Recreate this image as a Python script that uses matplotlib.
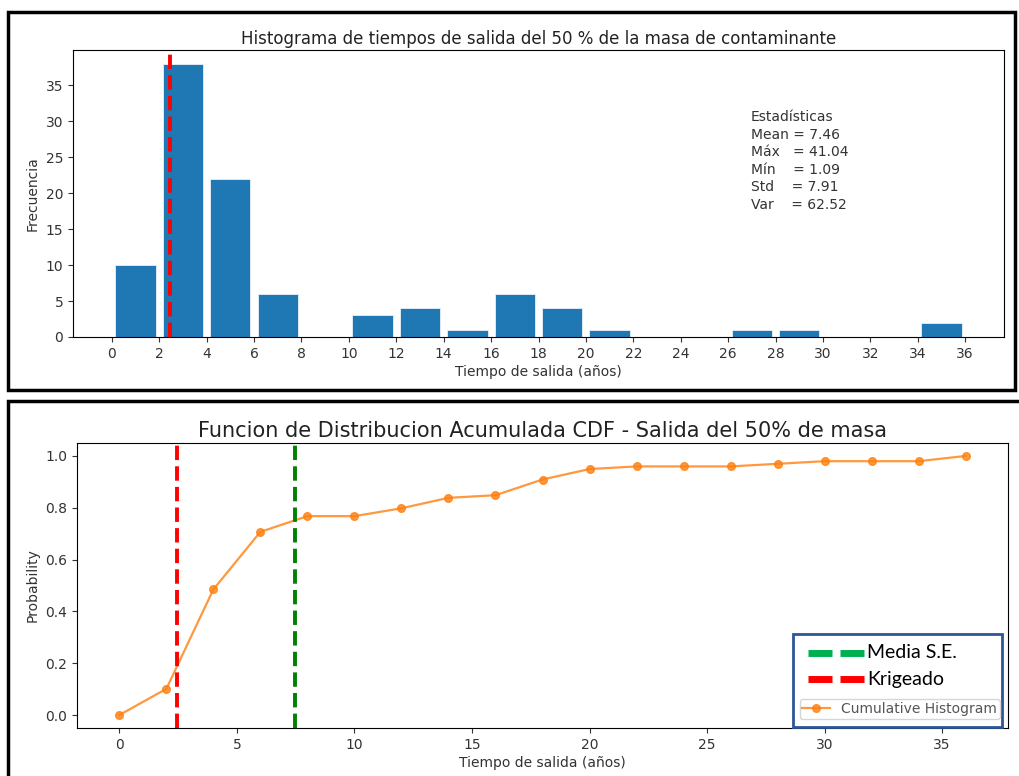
import numpy as np
import matplotlib.pyplot as plt
from matplotlib.patches import Rectangle
from matplotlib.lines import Line2D

# --- datos: histograma de tiempos de salida (bins de 2 años) ---
bin_edges = np.arange(0, 38, 2)
frecuencias = [10, 38, 22, 6, 0, 3, 4, 1, 6, 4, 1, 0, 0, 1, 1, 0, 0, 2]

# tiempos de referencia
t_krigeado = 2.45
t_media = 7.46

stats_txt = ("Estadísticas\n"
             "Mean = 7.46\n"
             "Máx   = 41.04\n"
             "Mín    = 1.09\n"
             "Std    = 7.91\n"
             "Var    = 62.52")

W, H = 1019, 776
fig = plt.figure(figsize=(W / 100, H / 100), dpi=100)


def fx(px):
    return px / W


def fy(py):
    return 1 - py / H


# --- histograma ---
ax1 = fig.add_axes([fx(73), fy(337), fx(1004) - fx(73), fy(50) - fy(337)])
ax1.hist(bin_edges[:-1], bins=bin_edges, weights=frecuencias, rwidth=0.85,
         color='#1f77b4', edgecolor='#e8f0f8', linewidth=0.6)
ax1.axvline(t_krigeado, color='red', linestyle='--', lw=2.8)
ax1.set_xticks(bin_edges)
ax1.set_title("Histograma de tiempos de salida del 50 % de la masa de contaminante",
              fontsize=12, color='#222222', pad=4)
ax1.set_xlabel("Tiempo de salida (años)", fontsize=10, color='#333333', labelpad=3)
ax1.set_ylabel("Frecuencia", fontsize=10, color='#333333')
ax1.tick_params(labelsize=10, colors='#333333')
ax1.text(0.728, 0.79, stats_txt, transform=ax1.transAxes, fontsize=10,
         color='#333333', va='top', ha='left', linespacing=1.32)

# --- CDF ---
cdf = np.concatenate([[0], np.cumsum(frecuencias) / np.sum(frecuencias)])
ax2 = fig.add_axes([fx(77), fy(728), fx(1008) - fx(77), fy(443) - fy(728)])
ax2.plot(bin_edges, cdf, marker='o', ms=5.5, lw=1.6, color='#ff7f0e', alpha=0.8,
         label='Cumulative Histogram')
ax2.axvline(t_krigeado, color='red', linestyle='--', lw=2.8)
ax2.axvline(t_media, color='green', linestyle='--', lw=2.8)
ax2.set_title("Funcion de Distribucion Acumulada CDF - Salida del 50% de masa",
              fontsize=15, color='#222222', pad=4)
ax2.set_xlabel("Tiempo de salida (años)", fontsize=10, color='#333333', labelpad=3)
ax2.set_ylabel("Probability", fontsize=10, color='#333333')
ax2.tick_params(labelsize=10, colors='#333333')

leg = ax2.legend(loc='lower right', bbox_to_anchor=(fx(1000), fy(719)),
                 bbox_transform=fig.transFigure, borderaxespad=0, fontsize=10,
                 borderpad=0.2, handlelength=2)
for t in leg.get_texts():
    t.set_color('#555555')

# recuadro con las líneas de referencia
ax2.add_patch(Rectangle((fx(793), fy(727)), fx(1002) - fx(793), fy(634) - fy(727),
                        transform=fig.transFigure, clip_on=False, facecolor='white',
                        edgecolor='#2f5597', lw=2, zorder=4))
for py, col, lbl in [(653, '#00b050', 'Media S.E.'), (679, '#ff0000', 'Krigeado')]:
    for x0, x1 in [(808, 832), (840, 864)]:
        ax2.add_line(Line2D([fx(x0), fx(x1)], [fy(py), fy(py)], color=col, lw=5,
                            solid_capstyle='butt', transform=fig.transFigure,
                            clip_on=False, zorder=6))
    ax2.text(fx(867), fy(py), lbl, transform=fig.transFigure, fontsize=14,
             family='Lato', va='center', ha='left', color='black', zorder=6)

# marcos negros alrededor de cada gráfico
fig.patches.append(Rectangle((fx(8), fy(390)), fx(1015) - fx(8), fy(12) - fy(390),
                             transform=fig.transFigure, fill=False,
                             edgecolor='black', lw=2.5))
fig.patches.append(Rectangle((fx(8), fy(790)), fx(1030) - fx(8), fy(401) - fy(790),
                             transform=fig.transFigure, fill=False,
                             edgecolor='black', lw=2.5))

fig.savefig('out.png', dpi=100)
